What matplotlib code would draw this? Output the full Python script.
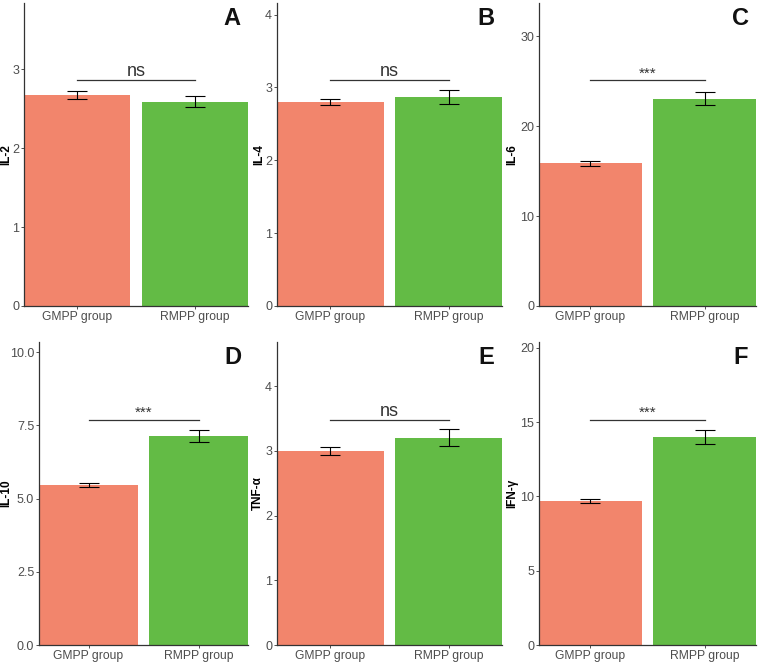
import numpy as np
import matplotlib
matplotlib.use("Agg")
import matplotlib.pyplot as plt

plt.rcParams['font.family'] = ['Liberation Sans', 'DejaVu Sans']

groups = ["GMPP group", "RMPP group"]
cytokines = ["IL-2", "IL-4", "IL-6", "IL-10", "TNF-α", "IFN-γ"]
panel_letters = ["A", "B", "C", "D", "E", "F"]
means = [[2.67, 2.59], [2.80, 2.87], [15.85, 23.05], [5.47, 7.13], [3.00, 3.20], [9.68, 14.00]]
errs = [[0.05, 0.07], [0.04, 0.09], [0.25, 0.75], [0.07, 0.20], [0.06, 0.13], [0.12, 0.46]]
signif = ["ns", "ns", "***", "***", "ns", "***"]
sig_y = [2.86, 3.10, 25.1, 7.68, 3.48, 15.16]
y_top = [3.84, 4.16, 33.7, 10.35, 4.68, 20.4]
y_ticks = [[0, 1, 2, 3], [0, 1, 2, 3, 4], [0, 10, 20, 30],
           [0.0, 2.5, 5.0, 7.5, 10.0], [0, 1, 2, 3, 4], [0, 5, 10, 15, 20]]
tick_fmt = ["%d", "%d", "%d", "%.1f", "%d", "%d"]

colors = ["#F2856C", "#63BB45"]

# axes boxes in pixels: left, right, top, bottom
boxes = [(24, 248, 3, 306), (277, 502, 3, 306), (539, 756, 3, 306),
         (39, 248, 342, 645), (277, 502, 342, 645), (539, 756, 342, 645)]
# right edge of the rotated y label, in pixels
label_x = [12, 265, 518, 12, 264, 518]

W, H = 760, 664
fig = plt.figure(figsize=(W / 100, H / 100), dpi=100)

for i in range(6):
    l, r, t, b = boxes[i]
    ax = fig.add_axes([l / W, 1 - b / H, (r - l) / W, (b - t) / H])
    x = np.arange(1, 3)
    ax.bar(x, means[i], width=0.9, color=colors, zorder=1)
    ax.errorbar(x, means[i], yerr=errs[i], fmt="none", ecolor="black",
                elinewidth=0.8, capsize=7, capthick=0.8, zorder=2)
    ax.plot([1, 2], [sig_y[i], sig_y[i]], color="#333333", lw=0.9)
    fs = 13 if signif[i] == "ns" else 11
    ax.text(1.5, sig_y[i], signif[i], ha="center", va="bottom", fontsize=fs, color="#333333")
    ax.text(0.93, 0.95, panel_letters[i], transform=ax.transAxes, ha="center", va="center",
            fontsize=17, fontweight="bold", color="#111111")
    ax.set_xlim(0.55, 2.45)
    ax.set_ylim(0, y_top[i])
    ax.set_xticks(x)
    ax.set_xticklabels(groups, fontsize=8.7, color="#4D4D4D")
    ax.set_yticks(y_ticks[i])
    ax.set_yticklabels([tick_fmt[i] % v for v in y_ticks[i]], fontsize=9, color="#4D4D4D")
    ax.tick_params(length=2.5, width=0.6, color="#333333", pad=1)
    ax.set_ylabel(cytokines[i], fontsize=8.5, fontweight="bold")
    ax.yaxis.set_label_coords((label_x[i] - l) / (r - l), 0.5)
    for s in ["top", "right"]:
        ax.spines[s].set_visible(False)
    for s in ["left", "bottom"]:
        ax.spines[s].set_color("#333333")
        ax.spines[s].set_linewidth(0.9)

fig.savefig("out.png", dpi=100)
